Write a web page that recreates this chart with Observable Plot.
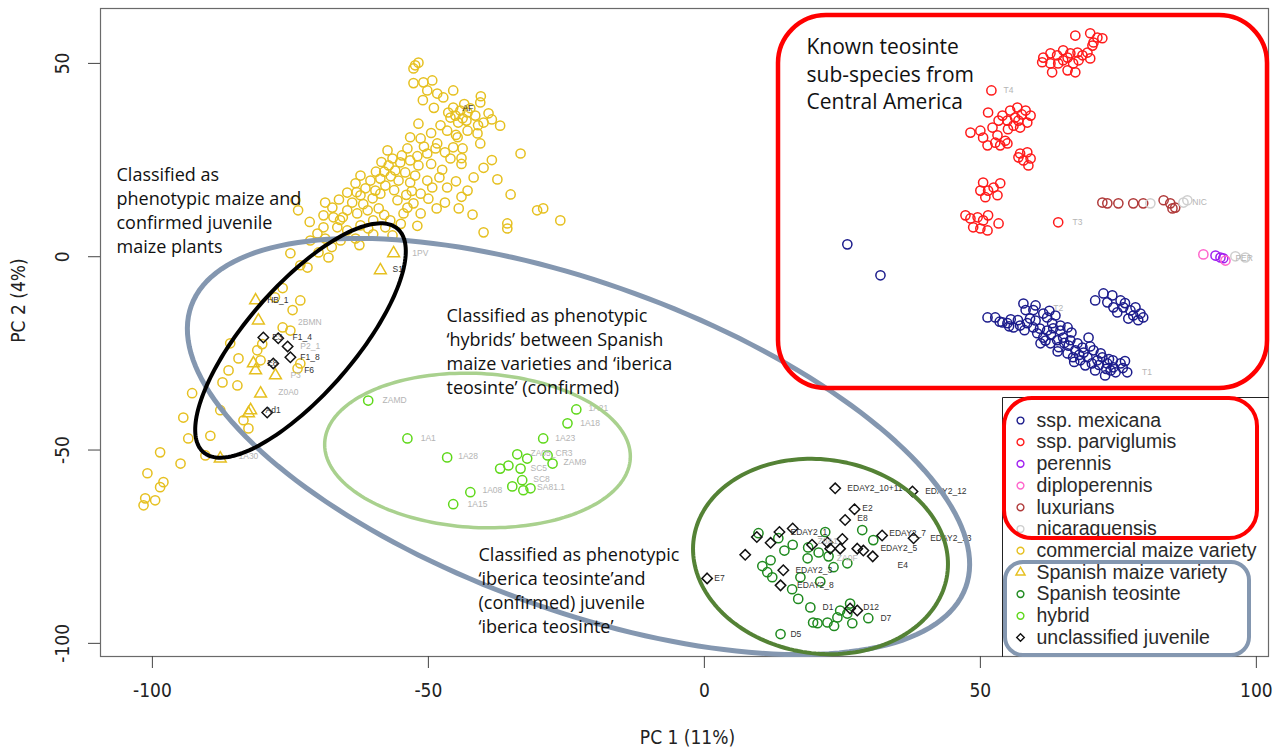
<!DOCTYPE html>
<html><head><meta charset="utf-8">
<script src="https://cdn.jsdelivr.net/npm/d3@7"></script>
<script src="https://cdn.jsdelivr.net/npm/@observablehq/plot@0.6"></script>
<style>body{margin:0;background:#fff}#chart svg{display:block}</style>
</head><body><div id="chart"></div>
<script>
// ---------- DATA (PC1, PC2) ----------
const xTicks = [-100, -50, 0, 50, 100];
const yTicks = [-100, -50, 0, 50];
const xLabel = "PC 1 (11%)";
const yLabel = "PC 2 (4%)";

const mexicana = [[25.9,3.2],[31.9,-4.8],[51.3,-15.7],[52.7,-15.7],[54.0,-17.0],[54.9,-17.2],[56.0,-18.3],[57.2,-17.8],[58.5,-17.2],[59.6,-18.3],[60.3,-19.8],[61.4,-20.9],[62.1,-19.1],[63.2,-18.5],[64.5,-19.1],[65.8,-18.3],[60.9,-22.4],[62.7,-22.4],[63.9,-21.6],[65.0,-20.9],[66.3,-21.6],[67.6,-22.4],[65.8,-25.0],[66.8,-26.0],[68.1,-26.8],[69.4,-26.0],[70.5,-24.2],[71.2,-26.8],[72.1,-26.0],[73.0,-27.6],[74.1,-28.6],[73.6,-29.4],[75.4,-27.6],[76.6,-29.9],[69.6,-20.9],[57.8,-12.1],[58.2,-13.8],[59.6,-13.8],[61.4,-14.7],[62.1,-15.7],[63.6,-15.2],[64.5,-17.8],[70.8,-11.3],[72.3,-9.5],[73.9,-10.0],[75.4,-11.3],[75.9,-13.1],[77.2,-13.9],[78.1,-13.1],[79.0,-14.7],[79.5,-15.7],[77.7,-15.2],[76.8,-16.0],[74.1,-13.1],[67.2,-24.2],[69.0,-28.1],[70.8,-29.4],[72.6,-30.7],[74.5,-29.9],[66.0,-23.0],[68.5,-23.5],[71.5,-28.0],[73.3,-26.5],[55.5,-16.2],[60.0,-16.5],[62.8,-20.2],[64.2,-23.4],[67.9,-25.4],[53.5,-16.8],[55.2,-18.0],[56.8,-16.4],[58.0,-19.0],[59.0,-16.0],[60.8,-18.6],[61.8,-21.7],[63.0,-17.2],[64.0,-24.5],[65.2,-22.3],[66.5,-19.6],[67.0,-27.2],[68.7,-24.8],[69.9,-23.2],[70.2,-27.6],[71.8,-25.0],[72.8,-29.0],[74.0,-26.8],[75.8,-28.8],[76.2,-27.0],[60.0,-12.6],[62.5,-14.0],[73.0,-11.8],[76.2,-12.0],[78.6,-16.4],[74.8,-14.4]];
const parviglumis = [[67.2,57.2],[69.9,57.8],[71.2,56.7],[72.1,56.5],[70.5,55.4],[70.3,54.6],[61.4,51.5],[62.7,52.6],[63.9,52.1],[65.0,53.4],[65.8,51.5],[66.3,52.6],[67.6,52.8],[68.5,52.1],[69.4,52.8],[69.9,51.3],[67.8,50.8],[66.8,50.0],[64.1,50.0],[62.7,50.0],[61.2,50.3],[63.0,47.7],[65.8,48.2],[67.2,47.7],[65.0,50.8],[52.0,43.0],[51.4,37.3],[54.0,36.5],[55.4,37.8],[56.7,38.6],[58.2,37.8],[59.1,36.5],[58.5,34.7],[56.9,35.2],[56.0,33.9],[54.9,35.2],[53.3,35.2],[52.2,33.4],[50.0,32.6],[48.2,32.1],[50.5,30.8],[53.1,31.4],[54.5,30.0],[52.7,29.5],[51.3,28.8],[53.6,28.8],[54.9,29.3],[56.3,36.0],[57.2,33.4],[55.0,33.0],[57.5,36.8],[57.2,26.7],[58.5,27.0],[56.9,25.7],[59.1,25.4],[58.7,23.6],[57.8,24.9],[50.5,19.2],[50.0,17.1],[52.4,17.9],[53.6,19.0],[53.1,15.9],[50.9,15.4],[51.4,17.1],[47.3,10.7],[48.2,9.9],[49.5,10.2],[50.5,9.4],[51.4,10.7],[48.7,7.6],[50.0,7.3],[51.3,6.8],[53.3,8.6],[64.1,8.9]];
const perennis = [[92.6,0.3],[93.5,-0.2],[94.0,-0.4]];
const diploperennis = [[90.4,0.6],[94.4,-1.0]];
const luxurians = [[72.1,14.0],[73.0,13.8],[75.0,13.8],[77.7,13.8],[79.5,13.8],[83.2,14.6],[84.4,13.8],[85.3,12.7],[84.8,12.5]];
const nicaraguensis = [[80.8,13.8],[86.8,14.0],[87.5,14.6],[96.2,0.1],[98.0,-0.2]];
const commercialMaize = [[-52.4,49.5],[-51.8,50.2],[-52.7,48.7],[-52.7,44.9],[-50.9,45.1],[-49.3,45.6],[-50.2,43.0],[-48.4,42.2],[-47.3,41.2],[-45.5,38.6],[-44.2,37.8],[-42.9,37.3],[-45.1,36.5],[-43.8,35.8],[-42.4,38.4],[-44.6,34.7],[-43.1,35.2],[-46.4,37.3],[-41.5,36.5],[-40.6,39.9],[-39.1,37.1],[-40.0,34.7],[-37.0,33.9],[-51.8,34.4],[-46.6,32.6],[-44.7,30.9],[-42.9,32.6],[-41.1,31.9],[-40.6,29.3],[-33.3,26.7],[-53.3,30.9],[-51.4,30.6],[-48.4,29.3],[-48.7,28.0],[-50.2,26.7],[-53.8,28.0],[-57.4,27.5],[-56.5,25.4],[-55.1,24.4],[-53.3,24.9],[-51.8,23.6],[-56.0,22.3],[-54.2,21.8],[-52.4,21.0],[-55.4,19.7],[-53.3,19.2],[-57.2,23.6],[-45.5,28.3],[-43.8,28.0],[-46.0,25.4],[-41.8,20.5],[-42.9,17.1],[-46.6,17.9],[-35.1,16.1],[-42.0,10.9],[-40.0,6.3],[-35.7,8.6],[-35.7,7.3],[-30.3,12.0],[-29.2,12.5],[-50.2,19.7],[-49.3,17.9],[-51.4,16.3],[-52.7,13.8],[-51.4,11.2],[-53.8,12.7],[-55.6,14.6],[-58.7,16.3],[-62.3,21.0],[-60.5,19.7],[-58.7,20.2],[-61.4,17.7],[-59.6,17.1],[-57.8,18.4],[-62.3,15.9],[-60.1,15.1],[-63.2,19.0],[-64.7,16.6],[-68.7,14.0],[-67.4,12.7],[-69.0,10.7],[-67.2,10.2],[-64.7,12.0],[-62.9,11.2],[-61.0,12.0],[-60.0,9.4],[-62.3,8.1],[-64.7,6.8],[-66.5,7.6],[-69.0,7.6],[-70.1,6.0],[-60.9,7.3],[-57.8,7.6],[-56.9,9.4],[-54.5,11.2],[-74.1,14.6],[-73.6,12.0],[-26.1,9.4],[-71.4,4.2],[-68.7,4.7],[-65.9,4.2],[-63.2,4.7],[-75.0,0.9],[-73.2,-2.2],[-71.9,-2.8],[-69.9,1.1],[-68.1,-0.2],[-76.4,-8.1],[-73.2,-11.3],[-74.6,-13.8],[-76.4,-18.3],[-75.0,-19.1],[-85.9,-22.4],[-84.4,-26.3],[-86.2,-29.4],[-87.3,-32.5],[-84.6,-33.3],[-80.1,-22.6],[-81.0,-24.2],[-80.4,-26.8],[-92.8,-35.3],[-94.4,-41.6],[-93.5,-47.0],[-89.5,-46.3],[-87.7,-39.7],[-83.5,-42.3],[-82.6,-44.4],[-98.6,-50.6],[-94.9,-53.5],[-100.9,-56.0],[-98.0,-58.3],[-98.6,-59.6],[-101.3,-62.5],[-99.5,-63.0],[-101.6,-64.3],[-90.4,-51.4],[-73.2,-27.6],[-73.7,-28.9],[-58.0,22.0],[-47.5,22.5],[-49.5,24.0],[-44.0,24.0],[-38.5,25.0],[-47.0,14.0],[-44.5,12.5],[-56.5,5.5],[-59.0,12.5],[-66.0,9.5],[-71.5,9.0],[-77.8,-10.5],[-46.0,36.0],[-43.5,39.5],[-47.8,34.0],[-41.0,34.0],[-45.0,31.5],[-49.5,32.0],[-50.8,28.5],[-47.0,27.0],[-52.0,26.0],[-54.8,26.2],[-58.5,24.5],[-56.8,20.8],[-59.5,22.0],[-53.0,17.0],[-50.0,15.0],[-48.0,20.5],[-45.0,19.5],[-44.0,15.5],[-56.2,17.2],[-63.8,14.0],[-65.5,10.2],[-61.8,13.6],[-58.0,10.8],[-55.0,8.5],[-52.0,8.0],[-63.0,16.7],[-66.2,14.8],[-54.0,16.0],[-48.5,12.5],[-60.0,5.8],[-62.5,3.0],[-67.5,2.5],[-40.5,41.5],[-38.5,35.5],[-49.0,38.5],[-51.0,40.5],[-45.5,43.0],[-44.0,25.5],[-40.0,23.0],[-37.5,20.0]];
const spanishMaize = [[-56.3,0.9],[-58.7,-3.5],[-81.3,-11.3],[-80.8,-16.5],[-81.7,-27.6],[-81.3,-29.4],[-77.7,-30.7],[-80.4,-35.4],[-82.2,-39.7],[-82.6,-40.5],[-87.7,-52.2]];
const spanishTeosinte = [[9.8,-71.5],[13.4,-72.8],[21.9,-71.2],[28.6,-70.7],[30.6,-73.3],[11.4,-81.6],[12.3,-82.9],[12.0,-78.5],[18.7,-78.0],[17.4,-82.9],[15.9,-86.0],[23.4,-80.3],[25.9,-79.3],[19.2,-90.7],[26.4,-89.7],[24.6,-91.5],[25.9,-92.3],[24.1,-93.3],[19.7,-94.6],[22.3,-94.6],[20.5,-94.8],[29.7,-93.5],[13.8,-97.6],[18.8,-75.2],[20.7,-76.5],[16.0,-74.5],[21.0,-84.0],[10.5,-80.0],[14.5,-76.0],[22.5,-77.5],[17.0,-88.5],[23.5,-95.5],[26.8,-94.8]];
const hybrid = [[-60.9,-37.2],[-53.8,-47.0],[-46.6,-51.9],[-23.2,-39.5],[-24.8,-43.1],[-29.2,-47.0],[-33.9,-51.1],[-32.1,-52.2],[-28.4,-51.4],[-27.5,-53.5],[-35.5,-54.0],[-37.0,-54.8],[-33.3,-54.8],[-33.0,-57.8],[-34.8,-59.4],[-32.8,-60.4],[-31.5,-59.9],[-42.4,-60.9],[-45.5,-64.0]];
const unclassified = [[-79.9,-20.9],[-77.2,-21.1],[-75.5,-23.2],[-75.0,-26.0],[-78.1,-27.6],[-79.2,-40.3],[23.7,-59.9],[37.7,-60.7],[27.2,-65.3],[25.5,-68.1],[13.6,-71.2],[12.0,-74.0],[7.4,-77.1],[14.3,-81.1],[13.8,-85.0],[32.2,-72.1],[37.9,-72.8],[22.3,-73.9],[22.8,-75.5],[24.6,-75.5],[27.7,-75.5],[28.8,-76.0],[26.4,-91.0],[27.7,-91.5],[0.5,-83.2],[9.5,-72.5],[16.0,-70.3],[19.5,-74.5],[25.0,-73.0],[30.5,-77.5]];

// sample labels: [PC1, PC2, text, dark?]
const sampleLabels = [[54.2,43.0,"T4",0],[66.7,8.9,"T3",0],[63.2,-13.4,"T2",0],[79.3,-29.9,"T1",0],[88.4,14.0,"NIC",0],[96.2,-0.3,"PER",0],
 [-52.9,0.9,"1PV",0],[-56.5,-3.3,"S1",1],[-79.2,-11.3,"HB_1",1],[-73.6,-17.0,"2BMN",0],[-78.3,-20.8,"E3",1],[-74.6,-20.8,"F1_4",1],[-73.2,-23.2,"P2_1",0],[-73.2,-26.0,"F1_8",1],[-79.2,-27.6,"E8",1],[-75.0,-30.7,"P3",0],[-72.5,-29.4,"F6",1],[-79.5,-39.7,"Ad1",1],[-77.2,-35.1,"Z0A0",0],[-84.4,-51.6,"1A30",0],[-43.8,38.3,"AF",1],
 [-58.3,-37.2,"ZAMD",0],[-51.4,-47.0,"1A1",0],[-44.6,-51.7,"1A28",0],[-21.0,-39.2,"1A21",0],[-22.5,-43.1,"1A18",0],[-27.0,-47.0,"1A23",0],[-31.5,-50.9,"ZA05_CR3",0],[-25.5,-53.2,"ZAM9",0],[-31.5,-54.8,"SC5",0],[-31.0,-57.6,"SC8",0],[-30.3,-59.7,"SA81.1",0],[-40.2,-60.5,"1A08",0],[-42.9,-64.1,"1A15",0],
 [25.9,-59.9,"EDAY2_10+11",1],[40.0,-60.7,"EDAY2_12",1],[28.6,-65.1,"E2",1],[27.7,-67.7,"E8",1],[33.5,-71.6,"EDAY2_7",1],[40.9,-72.8,"EDAY2_13",1],[1.8,-83.2,"E7",1],[15.6,-97.6,"D5",1],[31.9,-93.5,"D7",1],[28.8,-90.7,"D12",1],[21.4,-90.7,"D1",1],[35.0,-79.8,"E4",1],[16.5,-81.1,"EDAY2_3",1],[16.8,-85.0,"EDAY2_8",1],[31.9,-75.5,"EDAY2_5",1],[15.6,-71.3,"EDAY2_1",1],[20.5,-73.5,"Z0A1",0],[24.0,-78.0,"ZA0F",0]];

const legendNames = ["ssp. mexicana","ssp. parviglumis","perennis","diploperennis","luxurians","nicaraguensis","commercial maize variety","Spanish maize variety","Spanish teosinte","hybrid","unclassified juvenile"];
const groupData = [mexicana, parviglumis, perennis, diploperennis, luxurians, nicaraguensis, commercialMaize, spanishMaize, spanishTeosinte, hybrid, unclassified];

// ---------- STYLE ----------
const colors = ["#1c1c8c","#ff1a1a","#a020f0","#ff66cc","#b03a3a","#cfcfcf","#e6c020","#e6c020","#1f8a1f","#5fd81a","#111111"];
const symbols = ["circle","circle","circle","circle","circle","circle","circle","triangle","circle","circle","diamond2"];
const symR = {circle:4.6, triangle:4.4, diamond2:4.7};

const W = 1283, H = 749, mL = 100, mR = 15, mT = 8, mB = 93;
const xDom = [-109.4, 102.2], yDom = [-103.4, 64.2];
const X = d3.scaleLinear(xDom, [mL, W - mR]);
const Y = d3.scaleLinear(yDom, [H - mB, mT]);

function ellipse(cx, cy, a, b, deg) {
  const t = deg * Math.PI / 180;
  return d3.range(0, 360, 2).map(k => {
    const u = k * Math.PI / 180;
    const px = cx + a * Math.cos(u) * Math.cos(t) - b * Math.sin(u) * Math.sin(t);
    const py = cy + a * Math.cos(u) * Math.sin(t) + b * Math.sin(u) * Math.cos(t);
    return {x: X.invert(px), y: Y.invert(py)};
  });
}
function rrect(x1, y1, x2, y2, r, stroke, sw) {
  return Plot.rect([0], {x1: X.invert(x1), x2: X.invert(x2), y1: Y.invert(y2), y2: Y.invert(y1), rx: r, fill: "none", stroke, strokeWidth: sw});
}
const calib = "'Open Sans', Lato, sans-serif";
function note(lines, px, pyMid, size, lh) {
  return Plot.text([lines.join("\n")], {x: X.invert(px), y: Y.invert(pyMid), text: d => d, textAnchor: "start", lineAnchor: "middle", lineHeight: lh, fontSize: size, fontFamily: calib, fill: "#111"});
}

const marks = [];
marks.push(Plot.frame({stroke: "#6a6a6a", strokeWidth: 1.2}));
marks.push(Plot.axisX({ticks: xTicks, tickSize: 12, tickFormat: () => "", label: null, stroke: "#444"}));
marks.push(Plot.axisY({ticks: yTicks, tickSize: 12, tickFormat: () => "", label: null, stroke: "#444"}));
const tickFont = "'Liberation Sans Narrow', 'DejaVu Sans Condensed', sans-serif";
marks.push(Plot.text(xTicks, {x: d => d, frameAnchor: "bottom", dy: 34, text: d => String(d), lineAnchor: "middle", fontSize: 19, fontFamily: tickFont, fill: "#222"}));
marks.push(Plot.text(yTicks, {y: d => d, frameAnchor: "left", dx: -38, rotate: -90, text: d => String(d), textAnchor: "middle", lineAnchor: "middle", fontSize: 19, fontFamily: tickFont, fill: "#222"}));
marks.push(Plot.text([xLabel], {frameAnchor: "bottom", dx: 3, dy: 81, text: d => d, textAnchor: "middle", lineAnchor: "middle", fontSize: 19, fontFamily: tickFont, fill: "#222"}));
marks.push(Plot.text([yLabel], {frameAnchor: "left", dx: -82, dy: -32, rotate: -90, text: d => d, textAnchor: "middle", lineAnchor: "middle", fontSize: 19, fontFamily: tickFont, fill: "#222"}));

// points
groupData.forEach((g, i) => {
  marks.push(Plot.dot(g, {x: d => d[0], y: d => d[1], symbol: symbols[i], r: symR[symbols[i]], stroke: colors[i], strokeWidth: 1.5, fill: "none"}));
});
// sample labels
marks.push(Plot.text(sampleLabels, {x: d => d[0], y: d => d[1], text: d => d[2], textAnchor: "start", fontSize: 8.5, fontFamily: "'Liberation Sans', sans-serif", fill: d => d[3] ? "#333" : "#b4b4b4", fontWeight: d => d[3] ? "bold" : "normal"}));

// legend (R legend box)
marks.push(Plot.line([[1002, 656], [1002, 397], [1268, 397]].map(([a, b]) => ({x: X.invert(a), y: Y.invert(b)})), {x: "x", y: "y", stroke: "#222", strokeWidth: 1}));
const legendRows = legendNames.map((name, i) => ({name, i}));
const legendY = i => Y.invert(420 + i * 21.7);
marks.push(Plot.dot(legendRows, {x: () => X.invert(1020), y: d => legendY(d.i), symbol: d => symbols[d.i], r: 3.4, stroke: d => colors[d.i], strokeWidth: 1.4, fill: "none"}));
marks.push(Plot.text(legendRows, {x: () => X.invert(1036), y: d => legendY(d.i), text: "name", textAnchor: "start", lineAnchor: "middle", fontSize: 19.5, fontFamily: "'Liberation Sans', Arial, sans-serif", fill: "#2a2a2a"}));

// overlay annotations
marks.push(Plot.line(ellipse(578, 446, 412, 163, 20), {x: "x", y: "y", curve: "linear-closed", stroke: "#8497b0", strokeWidth: 5}));
marks.push(Plot.line(ellipse(477, 450, 153, 77, 3), {x: "x", y: "y", curve: "linear-closed", stroke: "#a9d18e", strokeWidth: 3.5}));
marks.push(Plot.line(ellipse(820, 556, 128, 97, 8), {x: "x", y: "y", curve: "linear-closed", stroke: "#548235", strokeWidth: 4}));
marks.push(Plot.line(ellipse(300, 340, 148, 54, -49), {x: "x", y: "y", curve: "linear-closed", stroke: "#000", strokeWidth: 4}));
marks.push(rrect(778, 15, 1267, 388, 48, "#ff0000", 4.5));
marks.push(rrect(1004, 398, 1257, 538, 28, "#ff0000", 4));
marks.push(rrect(1005, 562, 1249, 655, 18, "#8497b0", 4));

marks.push(note(["Known teosinte", "sub-species from", "Central America"], 806, 72.5, 21, 1.31));
marks.push(note(["Classified as", "phenotypic maize and", "confirmed juvenile", "maize plants"], 116, 209, 18, 1.333));
marks.push(note(["Classified as phenotypic", "\u2018hybrids\u2019 between Spanish", "maize varieties and \u2018iberica", "teosinte\u2019 (confirmed)"], 446, 350, 18, 1.333));
marks.push(note(["Classified as phenotypic", "\u2018iberica teosinte\u2019and", "(confirmed) juvenile", "\u2018iberica teosinte\u2019"], 478, 589, 18, 1.333));

const chart = Plot.plot({
  width: W, height: H,
  marginLeft: mL, marginRight: mR, marginTop: mT, marginBottom: mB,
  x: {domain: xDom}, y: {domain: yDom},
  style: {background: "#fff", overflow: "visible"},
  marks
});
document.getElementById("chart").append(chart);
</script>
</body></html>
